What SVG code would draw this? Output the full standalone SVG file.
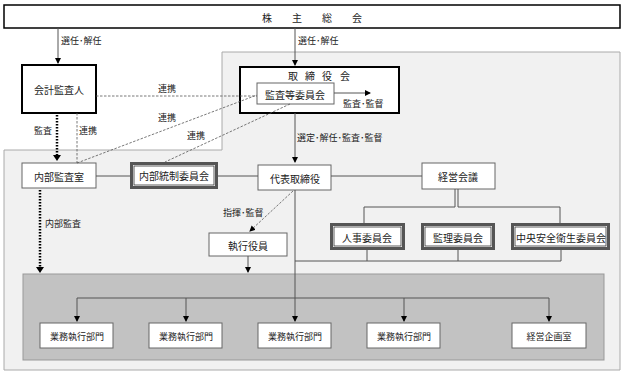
<svg xmlns="http://www.w3.org/2000/svg" width="624" height="374" viewBox="0 0 624 374">
<style>
text{font-family:"Noto Sans CJK JP","Noto Sans CJK SC",sans-serif;fill:#222;text-anchor:middle;dominant-baseline:central}
.n{font-size:10px}
.s{font-size:9px}
.lab{font-size:9px;text-anchor:start}
.thick{fill:#fff;stroke:#000;stroke-width:2}
.thin{fill:#fff;stroke:#666;stroke-width:1}
.dbo{fill:#fff;stroke:#555;stroke-width:3}
.dbi{fill:none;stroke:#333;stroke-width:0.8}
.ln{fill:none;stroke:#555;stroke-width:1}
.dash{fill:none;stroke:#555;stroke-width:0.8;stroke-dasharray:2.5,1.5}
.dot{fill:none;stroke:#000;stroke-width:2.5;stroke-dasharray:1.5,1.5}
</style>
<defs>
<marker id="ah" markerWidth="6" markerHeight="6" refX="5" refY="3" orient="auto" markerUnits="userSpaceOnUse">
<path d="M0,0 L6,3 L0,6 Z" fill="#000"/>
</marker>
</defs>
<rect x="0" y="0" width="624" height="374" fill="#fff"/>
<g id="bg">
<path d="M222,52 H620 V370 H4 V150 H222 Z" fill="#f1f1f1" stroke="#aaa" stroke-width="1"/>
<rect x="23" y="274" width="581" height="86" fill="#c2c2c2" stroke="#999" stroke-width="1"/>
</g>
<g id="kabunushi">
<rect x="4" y="5" width="616" height="23" fill="#fff" stroke="#000" stroke-width="1.5"/>
<text class="n" x="312" y="17" xml:space="preserve">株　　主　　総　　会</text>
</g>
<g id="kaikei">
<rect class="thick" x="22" y="65" width="74" height="48"/>
<text class="n" x="59" y="89">会計監査人</text>
</g>
<g id="torishimariyakukai">
<rect class="thick" x="240" y="67" width="159" height="46"/>
<text class="n" x="293 310 327 345" y="75">取締役会</text>
</g>
<g id="kansatou">
<rect class="thin" x="257" y="83" width="77" height="21"/>
<text class="n" x="295" y="94">監査等委員会</text>
</g>
<g id="naibukansashitsu">
<rect class="thin" x="22" y="163" width="74" height="25"/>
<text class="n" x="59" y="176">内部監査室</text>
</g>
<g id="naibutousei">
<rect class="dbo" x="131.5" y="163.5" width="85" height="24"/>
<rect class="dbi" x="134" y="166" width="80" height="19"/>
<text class="n" x="174" y="175">内部統制委員会</text>
</g>
<g id="daihyou">
<rect class="thin" x="258" y="165" width="73" height="25"/>
<text class="n" x="295" y="178">代表取締役</text>
</g>
<g id="keiei">
<rect class="thin" x="422" y="163" width="73" height="26"/>
<text class="n" x="458" y="176">経営会議</text>
</g>
<g id="jinji">
<rect class="dbo" x="331.5" y="224.5" width="72" height="24"/>
<rect class="dbi" x="334" y="227" width="67" height="19"/>
<text class="n" x="367" y="237">人事委員会</text>
</g>
<g id="kanri">
<rect class="dbo" x="422.5" y="224.5" width="71" height="24"/>
<rect class="dbi" x="425" y="227" width="66" height="19"/>
<text class="n" x="458" y="237">監理委員会</text>
</g>
<g id="chuou">
<rect class="dbo" x="512.5" y="224.5" width="96" height="24"/>
<rect class="dbi" x="515" y="227" width="91" height="19"/>
<text class="n" x="561" y="237">中央安全衛生委員会</text>
</g>
<g id="shikkou">
<rect class="thin" x="209" y="233" width="78" height="23"/>
<text class="n" x="248" y="245">執行役員</text>
</g>
<g id="gyomu1">
<rect class="thin" x="40" y="323" width="73" height="25"/>
<text class="s" x="77" y="336">業務執行部門</text>
</g>
<g id="gyomu2">
<rect class="thin" x="149" y="323" width="73" height="25"/>
<text class="s" x="186" y="336">業務執行部門</text>
</g>
<g id="gyomu3">
<rect class="thin" x="258" y="323" width="73" height="25"/>
<text class="s" x="295" y="336">業務執行部門</text>
</g>
<g id="gyomu4">
<rect class="thin" x="367" y="323" width="73" height="25"/>
<text class="s" x="404" y="336">業務執行部門</text>
</g>
<g id="kikaku">
<rect class="thin" x="512" y="323" width="74" height="25"/>
<text class="s" x="549" y="336">経営企画室</text>
</g>
<g id="connectors">
<path class="ln" d="M58,28 V63" marker-end="url(#ah)"/>
<path class="ln" d="M295,28 V65" marker-end="url(#ah)"/>
<path class="ln" d="M334,93 H370" marker-end="url(#ah)"/>
<path class="ln" d="M295,113 V162" marker-end="url(#ah)"/>
<path class="dash" d="M96,96 H257"/>
<path class="dash" d="M77,163 L257,95"/>
<path class="dash" d="M77,113 V163"/>
<path class="dash" d="M290,104 L165,162"/>
<path class="dot" d="M57,115 V156"/>
<path d="M53,155 L57,161 L61,155 Z" fill="#000"/>
<path class="dot" d="M40,190 V268"/>
<path d="M36,267 L40,273 L44,267 Z" fill="#000"/>
<path class="ln" d="M96,176 H130 M218,176 H258 M331,176 H422"/>
<path class="ln" d="M455,189 V207 H364 V223 M458,189 V207 H560 V223"/>
<path class="ln" d="M367,250 V261 M458,250 V261 M561,250 V261 M295,261 H561"/>
<path class="dash" d="M293,191 L250,231" marker-end="url(#ah)"/>
<path class="ln" d="M248,256 V272" marker-end="url(#ah)"/>
<path class="ln" d="M295,190 V321" marker-end="url(#ah)"/>
<path class="ln" d="M77,298 H549"/>
<path class="ln" d="M77,298 V321" marker-end="url(#ah)"/>
<path class="ln" d="M186,298 V321" marker-end="url(#ah)"/>
<path class="ln" d="M404,298 V321" marker-end="url(#ah)"/>
<path class="ln" d="M549,298 V321" marker-end="url(#ah)"/>
</g>
<g id="labels">
<text class="lab" x="61" y="40">選任･解任</text>
<text class="lab" x="298" y="40">選任･解任</text>
<text class="s" x="167" y="88">連携</text>
<text class="s" x="167" y="117">連携</text>
<text class="s" x="196" y="135">連携</text>
<text class="s" x="88" y="130">連携</text>
<text class="s" x="43" y="130">監査</text>
<text class="lab" x="343" y="103">監査･監督</text>
<text class="lab" x="297" y="137">選定･解任･監査･監督</text>
<text class="lab" x="45" y="223">内部監査</text>
<text class="lab" x="223" y="212">指揮･監督</text>
</g>
</svg>
